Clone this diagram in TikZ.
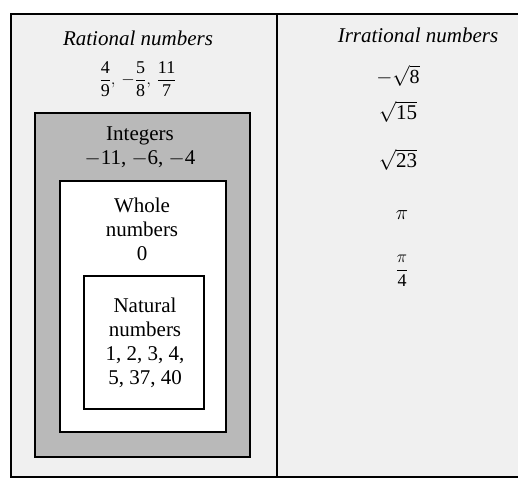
\documentclass[tikz,border=0pt]{standalone}
\usepackage{fontspec}
\setmainfont{Liberation Serif}
\begin{document}
\begin{tikzpicture}[x=1pt,y=-1pt,
  lbl/.style={font=\fontsize{21}{24}\selectfont, align=center, inner sep=0pt},
  fr/.style={font=\fontsize{18}{20}\selectfont, inner sep=0pt},
  box/.style={draw=black, line width=1.4pt}]
\useasboundingbox (0,0) rectangle (518,478);
% outer region
\fill[gray!12] (11,14) rectangle (518,477);
\draw[box] (518,14) -- (11,14) -- (11,477) -- (518,477);
\draw[box] (277,14) -- (277,477);
% nested boxes
\draw[box, fill=gray!55] (35,113) rectangle (250,457);
\draw[box, fill=white] (60,181) rectangle (226,432);
\draw[box, fill=white] (84,276) rectangle (204,409);
% left column texts
\node[lbl] (rat) at (138,38) {\itshape Rational numbers};
\node[fr] (ratex) at (138,79) {$\displaystyle\frac{\mbox{4}}{\mbox{9}},\, -\frac{\mbox{5}}{\mbox{8}},\, \frac{\mbox{11}}{\mbox{7}}$};
\node[lbl] (int) at (140,147) {Integers\\$-$11, $-$6, $-$4};
\node[lbl] (whole) at (142,229) {Whole\\numbers\\0};
\node[lbl] (nat) at (145,343) {Natural\\numbers\\1, 2, 3, 4,\\5, 37, 40};
% right column texts
\node[lbl] (irr) at (418,35) {\itshape Irrational numbers};
\node[lbl, font=\fontsize{20}{22}\selectfont] (m8) at (398,76) {$-\sqrt{\mbox{8}}$};
\node[lbl] (s15) at (398,112) {$\sqrt{\mbox{15}}$};
\node[lbl] (s23) at (398,160) {$\sqrt{\mbox{23}}$};
\node[lbl] (pi) at (402,215) {$\pi$};
\node[fr] (pi4) at (402,271) {$\displaystyle\frac{\pi}{\mbox{4}}$};
\end{tikzpicture}
\end{document}
